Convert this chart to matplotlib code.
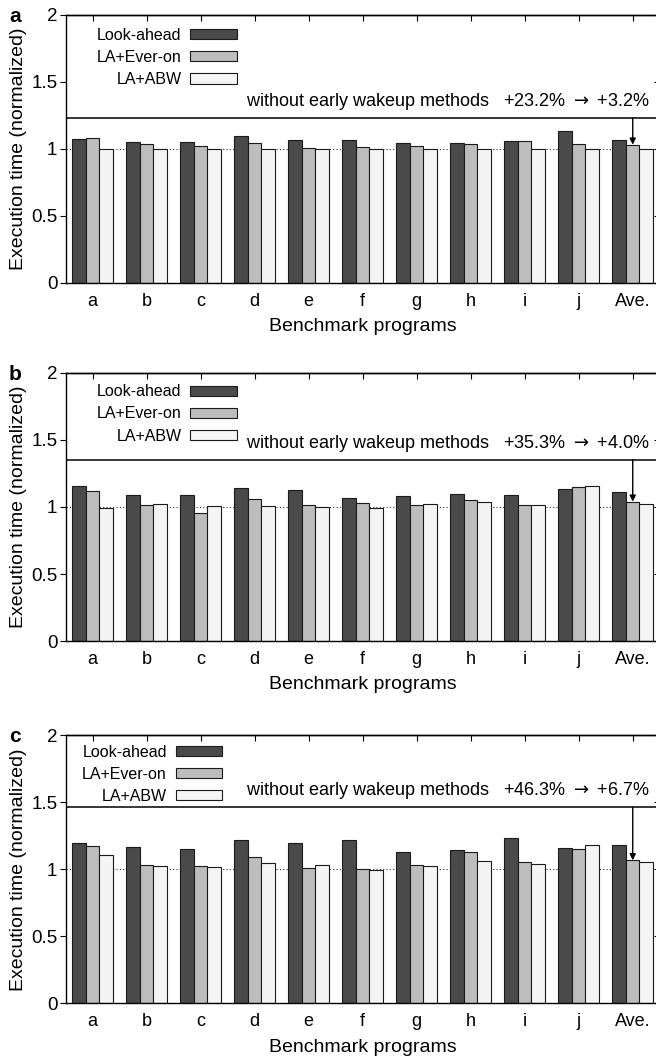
import numpy as np
import matplotlib
matplotlib.use("Agg")
import matplotlib.pyplot as plt

plt.rcParams['font.family'] = ['Liberation Sans', 'DejaVu Sans']
plt.rcParams['font.size'] = 13

programs = ['a', 'b', 'c', 'd', 'e', 'f', 'g', 'h', 'i', 'j', 'Ave.']
series_names = ['Look-ahead', 'LA+Ever-on', 'LA+ABW']
colors = ['#4a4a4a', '#bdbdbd', '#f4f4f4']

# panel a
la_a = [1.072, 1.052, 1.052, 1.097, 1.065, 1.065, 1.042, 1.045, 1.057, 1.132, 1.066]
ever_a = [1.085, 1.040, 1.020, 1.047, 1.010, 1.017, 1.025, 1.035, 1.060, 1.040, 1.032]
abw_a = [1.0, 1.0, 1.0, 1.0, 1.0, 1.0, 1.0, 1.0, 1.0, 1.0, 1.0]
base_a = 1.232
note_a = 'without early wakeup methods   +23.2% $\\rightarrow$ +3.2%'

# panel b
la_b = [1.154, 1.092, 1.092, 1.139, 1.124, 1.065, 1.080, 1.095, 1.087, 1.134, 1.109]
ever_b = [1.119, 1.012, 0.958, 1.062, 1.015, 1.027, 1.012, 1.052, 1.017, 1.147, 1.040]
abw_b = [0.993, 1.025, 1.010, 1.005, 1.002, 0.995, 1.020, 1.040, 1.012, 1.154, 1.025]
base_b = 1.353
note_b = 'without early wakeup methods   +35.3% $\\rightarrow$ +4.0%'

# panel c
la_c = [1.196, 1.166, 1.148, 1.218, 1.196, 1.218, 1.128, 1.143, 1.233, 1.161, 1.181]
ever_c = [1.171, 1.031, 1.024, 1.091, 1.009, 1.000, 1.029, 1.131, 1.054, 1.153, 1.067]
abw_c = [1.108, 1.026, 1.016, 1.046, 1.031, 0.995, 1.024, 1.059, 1.036, 1.181, 1.054]
base_c = 1.463
note_c = 'without early wakeup methods   +46.3% $\\rightarrow$ +6.7%'

panels = [
    ('a', [la_a, ever_a, abw_a], base_a, note_a, [0.1002, 0.7328, 0.9055, 0.2531], (0.288, 0.952)),
    ('b', [la_b, ever_b, abw_b], base_b, note_b, [0.1002, 0.3947, 0.9055, 0.2531], (0.288, 0.958)),
    ('c', [la_c, ever_c, abw_c], base_c, note_c, [0.1002, 0.0526, 0.9055, 0.2531], (0.263, 0.965)),
]

fig = plt.figure(figsize=(6.56, 10.59), dpi=100)
x = np.arange(len(programs))
w = 0.25

for tag, series, base, note, rect, leg_pos in panels:
    ax = fig.add_axes(rect)
    for k, vals in enumerate(series):
        ax.bar(x + (k - 1) * w, vals, width=w, color=colors[k],
               edgecolor='#1a1a1a', linewidth=0.8, label=series_names[k], zorder=2)

    # reference line at 1 and the "without early wakeup" level
    ax.axhline(1.0, color='#333333', linestyle=(0, (1, 2)), linewidth=0.8, zorder=1)
    ax.axhline(base, color='black', linewidth=1.1, zorder=3)
    ax.annotate('', xy=(x[-1], series[1][-1]), xytext=(x[-1], base),
                arrowprops=dict(arrowstyle='-|>', color='black', lw=1.0,
                                mutation_scale=9, shrinkA=0, shrinkB=0), zorder=4)
    ax.text(0.9825, base + 0.045, note, transform=ax.get_yaxis_transform(),
            ha='right', va='bottom', fontsize=13)

    ax.set_xlim(-0.5, 10.5)
    ax.set_ylim(0, 2)
    ax.set_yticks([0, 0.5, 1, 1.5, 2])
    ax.set_yticklabels(['0', '0.5', '1', '1.5', '2'])
    ax.set_xticks(x)
    ax.set_xticklabels(programs)
    ax.tick_params(axis='x', which='both', direction='in', length=0, pad=7,
                   labelsize=13)
    ax.tick_params(axis='y', left=True, direction='out', length=4, pad=2,
                   labelsize=13.5)

    # mirrored ticks pointing inward on top and right
    sec_x = ax.secondary_xaxis('top')
    sec_x.set_xticks(x)
    sec_x.tick_params(direction='in', length=4, labeltop=False)
    sec_y = ax.secondary_yaxis('right')
    sec_y.set_yticks([0, 0.5, 1, 1.5, 2])
    sec_y.tick_params(direction='in', length=4, labelright=False)
    for s in list(ax.spines.values()) + [sec_x.spines['top'], sec_y.spines['right']]:
        s.set_linewidth(1.0)

    ax.set_ylabel('Execution time (normalized)', fontsize=14)
    ax.yaxis.set_label_coords(-0.066, 0.5)
    ax.set_xlabel('Benchmark programs', fontsize=14)
    ax.xaxis.set_label_coords(0.5, -0.132)

    ax.legend(loc='upper right', bbox_to_anchor=leg_pos, markerfirst=False,
              frameon=False, handlelength=2.9, handleheight=0.6,
              labelspacing=0.45, borderpad=0, borderaxespad=0,
              handletextpad=0.55, fontsize=11.5)

    top_px = (1 - rect[1] - rect[3]) * 1059
    fig.text(15 / 656, 1 - (top_px + 7) / 1059, tag, fontsize=15,
             fontweight='bold', ha='center', va='baseline')

fig.savefig('out.png', dpi=100)
